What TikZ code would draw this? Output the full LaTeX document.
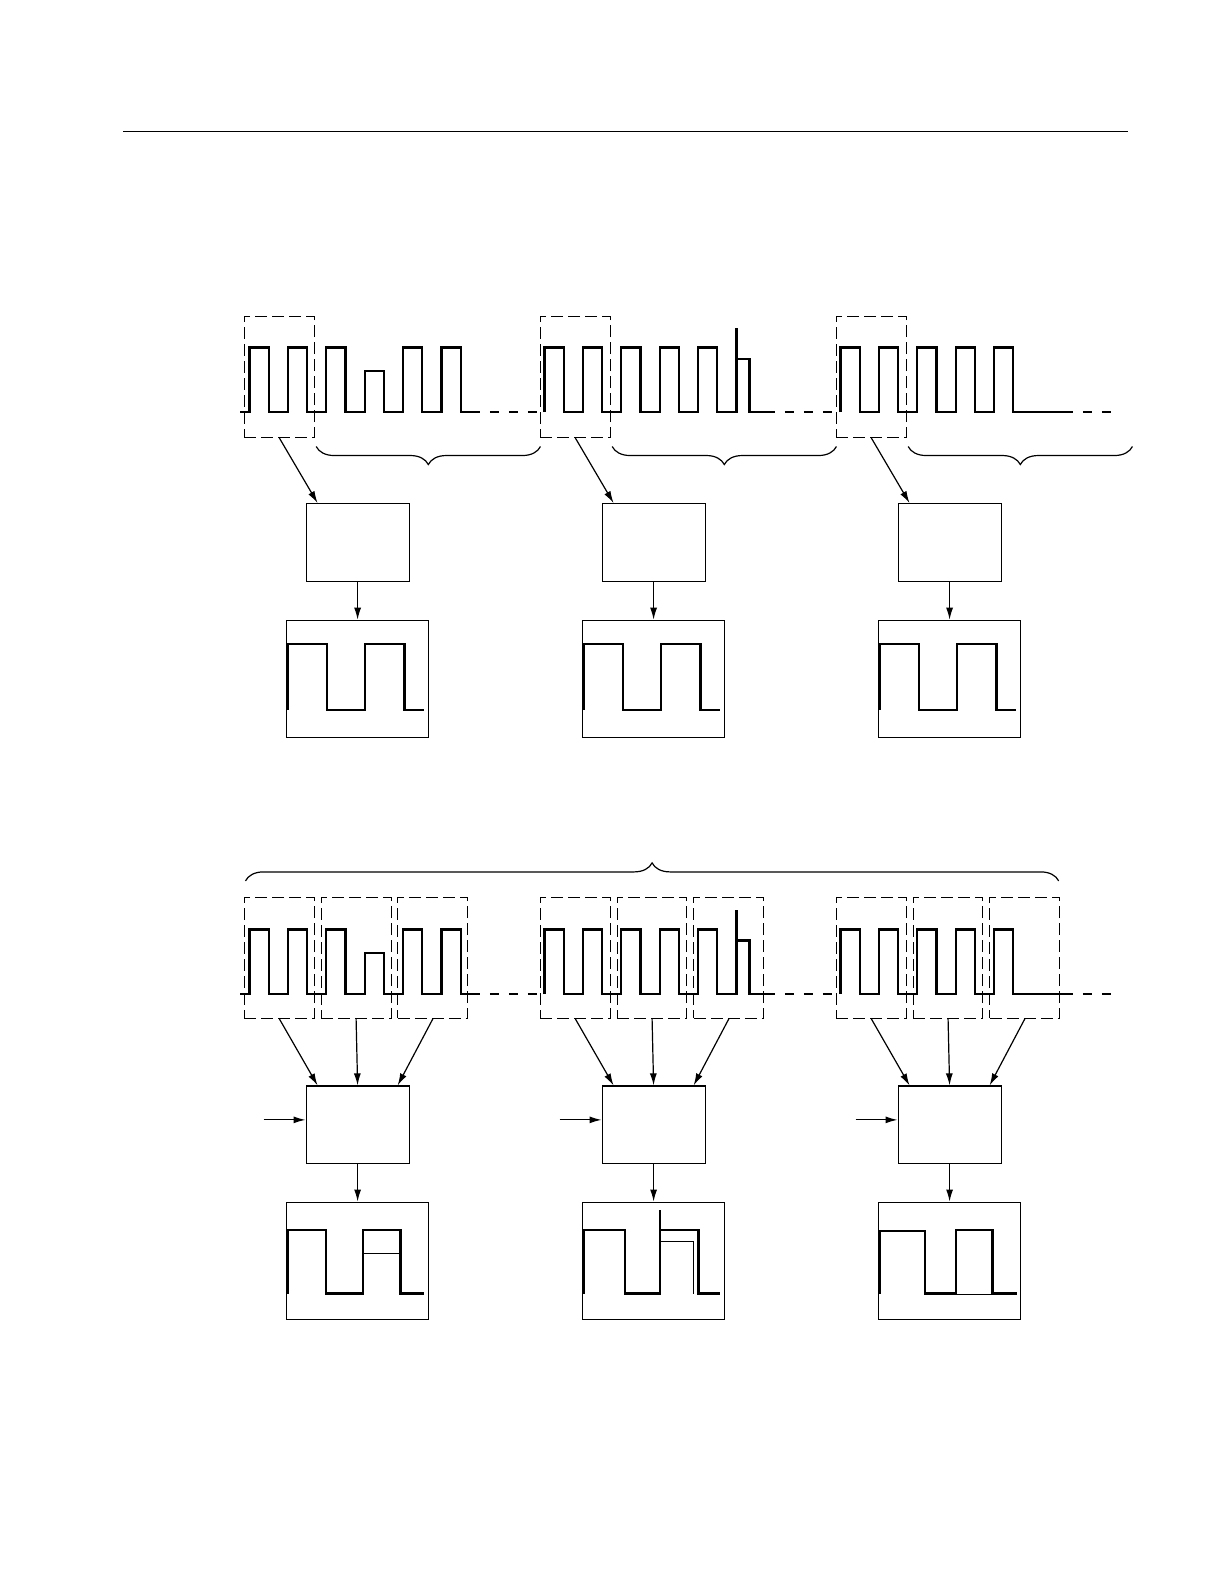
\documentclass[tikz,border=0pt]{standalone}
\usetikzlibrary{arrows.meta,decorations.pathreplacing}
\tikzset{
  wave/.style={line width=1.1bp, line join=miter},
  thinwave/.style={line width=0.5bp},
  gap/.style={line width=1.1bp, dash pattern=on 4.5bp off 5bp, dash phase=4.5bp},
  winbox/.style={draw, line width=0.5bp, dash pattern=on 6bp off 2.5bp,
    minimum width=34.9bp, minimum height=60.6bp, inner sep=0pt},
  procbox/.style={draw, line width=0.55bp, minimum width=51.5bp, minimum height=38.9bp, inner sep=0pt},
  outbox/.style={draw, line width=0.55bp, minimum width=70.7bp, minimum height=58.6bp, inner sep=0pt},
  arr/.style={line width=0.6bp, -{Latex[length=6bp,width=3.5bp]}},
  brcup/.style={line width=0.6bp, decorate, decoration={brace, amplitude=9bp}},
  brcdown/.style={line width=0.6bp, decorate, decoration={brace, mirror, amplitude=9bp}},
}
\begin{document}
\begin{tikzpicture}[x=0.505bp, y=-0.505bp]
  \useasboundingbox (0,0) rectangle (1212,1568);
  % rule at the top of the page
  \draw[line width=0.5bp] (122,130) -- (1117,130);

  % input pulse trains, upper and lower row
  \foreach \by in {408,984} {
    % first group, fourth pulse lower
    \draw[wave] (238,\by) -- (247,\by)
      \foreach \hh in {64,64,64,41,64,64} { -- ++(0,-\hh) -- ++(19,0) -- ++(0,\hh) -- ++(19,0) };
    \draw[gap] (475,\by) -- (539,\by);
    % second group, last pulse with a spike
    \draw[wave] (539,\by)
      \foreach \hh in {64,64,64,64,64} { -- ++(0,-\hh) -- ++(19,0) -- ++(0,\hh) -- ++(19,0) }
      -- ++(0,-53) -- ++(13,0) -- ++(0,53) -- (767,\by);
    \draw[wave] (729,\by-52) -- (729,\by-83);
    \draw[gap] (767,\by) -- (832,\by);
    % third group, five pulses then flat
    \draw[wave] (832,\by)
      \foreach \hh in {64,64,64,64,64} { -- ++(0,-\hh) -- ++(19,0) -- ++(0,\hh) -- ++(19,0) }
      -- (1062,\by);
    \draw[gap] (1062,\by) -- (1107,\by);
  }

  % windows, blocks and output screens
  \foreach \g/\G in {1/0,2/293,3/586} {
    \node[winbox] (wt\g) at (276.5+\G,373) {};
    \foreach \k in {1,2,3}
      \node[winbox] (wb\g\k) at (200.5+76*\k+\G,948) {};
    \node[procbox] (pt\g) at (354+\G,537) {};
    \node[outbox] (ot\g) at (354+\G,672) {};
    \node[procbox] (pb\g) at (354+\G,1113.5) {};
    \node[outbox] (ob\g) at (354+\G,1248) {};
    \draw[brcdown] (313+\G,442) -- (535+\G,442);

    \draw[arr] (wt\g.south) -- ([xshift=6bp]pt\g.north west);
    \draw[arr] (pt\g.south) -- (ot\g.north);
    \draw[arr] (wb\g1.south) -- ([xshift=6bp]pb\g.north west);
    \draw[arr] (wb\g2.south) -- (pb\g.north);
    \draw[arr] (wb\g3.south) -- ([xshift=-6bp]pb\g.north east);
    \coordinate (in\g) at ([xshift=-21bp,yshift=2.5bp]pb\g.west);
    \draw[arr] (in\g) -- ([yshift=2.5bp]pb\g.west);
    \draw[arr] (pb\g.south) -- (ob\g.north);

    % upper screens all show the same square wave
    \begin{scope}[shift={(ot\g.north west)}]
      \draw[wave] (2,89) -- (2,24) -- (40,24) -- (40,89) -- (78,89) -- (78,24)
        -- (117,24) -- (117,89) -- (136,89);
    \end{scope}
  }

  % lower row brace over all windows
  \draw[brcup] (243,872) -- (1048,872);

  % lower screens
  \begin{scope}[shift={(ob1.north west)}]
    \draw[wave] (2,91) -- (2,28) -- (39,28) -- (39,91) -- (76,91) -- (76,28)
      -- (113,28) -- (113,91) -- (136,91);
    \draw[thinwave] (76,51) -- (113,51);
  \end{scope}
  \begin{scope}[shift={(ob2.north west)}]
    \draw[wave] (2,91) -- (2,28) -- (42,28) -- (42,91) -- (77,91) -- (77,8);
    \draw[wave] (77,28) -- (115,28) -- (115,91) -- (136,91);
    \draw[thinwave] (77,40) -- (110,40) -- (110,91);
  \end{scope}
  \begin{scope}[shift={(ob3.north west)}]
    \draw[wave] (1.5,91) -- (1.5,29) -- (46,29) -- (46,91) -- (77,91) -- (77,28)
      -- (113,28) -- (113,91) -- (137,91);
    \draw[thinwave] (77,92) -- (113,92);
  \end{scope}
\end{tikzpicture}
\end{document}
